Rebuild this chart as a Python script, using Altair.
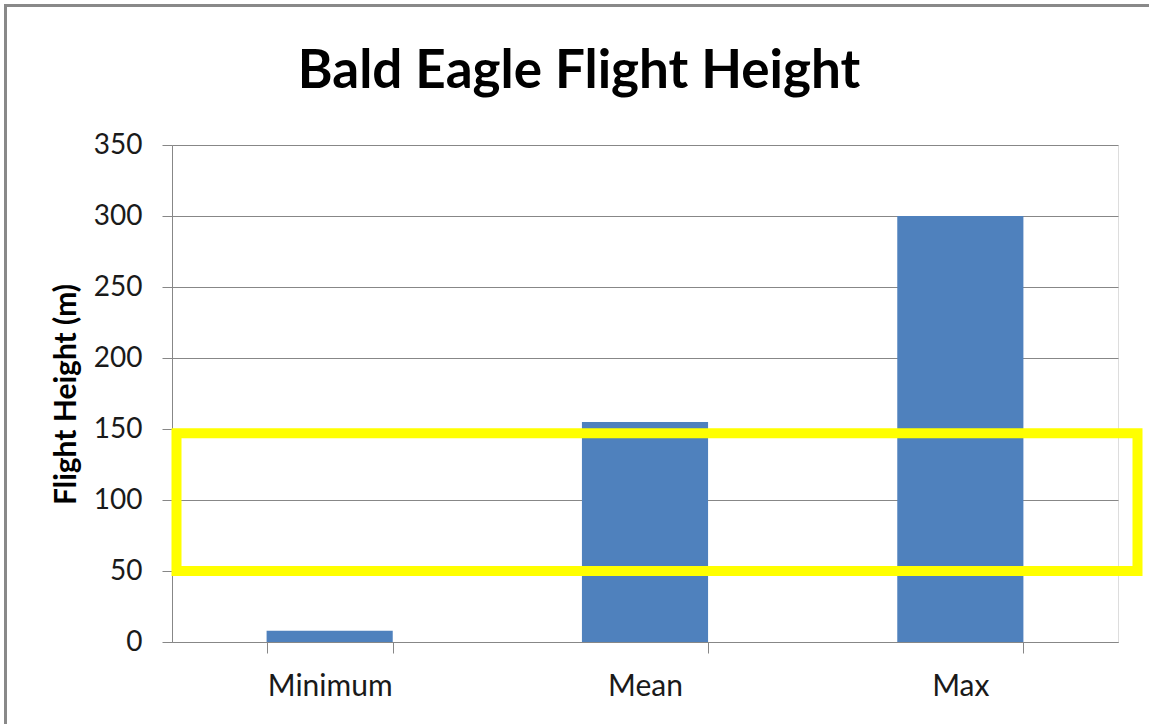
import altair as alt
import pandas as pd

categories = ["Minimum", "Mean", "Max"]
heights = [8, 155, 300]
highlight_low = [50]
highlight_high = [147]

bars_df = pd.DataFrame({"stat": categories, "height": heights})
box_df = pd.DataFrame({"low": highlight_low, "high": highlight_high})

FONT = "Lato"
GRAY = "#878787"

x_enc = alt.X(
    "stat:N",
    sort=categories,
    scale=alt.Scale(paddingInner=0.6, paddingOuter=0.3),
    axis=alt.Axis(
        title=None,
        labelAngle=0,
        tickBand="extent",
        tickSize=11,
        tickColor=GRAY,
        domainColor=GRAY,
        labelFont=FONT,
        labelFontSize=30,
        labelColor="#1a1a1a",
        labelPadding=18,
        grid=False,
    ),
)

y_enc = alt.Y(
    "height:Q",
    scale=alt.Scale(domain=[0, 350], nice=False),
    axis=alt.Axis(
        title="Flight Height (m)",
        values=[0, 50, 100, 150, 200, 250, 300, 350],
        tickSize=10,
        tickColor=GRAY,
        domainColor=GRAY,
        gridColor=GRAY,
        gridWidth=1,
        labelFont=FONT,
        labelFontSize=28,
        labelColor="#1a1a1a",
        labelPadding=20,
        titleFont=FONT,
        titleFontSize=30,
        titleFontWeight="bold",
        titleColor="#000000",
        titleX=-97,
        titleY=249,
        titleAngle=270,
        titleAlign="center",
        titleBaseline="alphabetic",
    ),
)

bars = alt.Chart(bars_df).mark_bar(color="#4F81BD").encode(x=x_enc, y=y_enc)

box = alt.Chart(box_df).mark_rect(
    filled=False, stroke="#FFFF00", strokeWidth=10
).encode(
    y=alt.Y("low:Q"),
    y2="high:Q",
    x=alt.value(4.5),
    x2=alt.value(965.5),
)

border = alt.Chart(box_df).mark_rect(
    filled=False, stroke="#898989", strokeWidth=3
).encode(
    x=alt.value(-166.5),
    x2=alt.value(1000),
    y=alt.value(-139.5),
    y2=alt.value(700),
)

chart = alt.layer(border, bars, box).properties(
    width=946,
    height=497,
    autosize=alt.AutoSizeParams(type="none"),
    padding={"left": 172, "top": 145, "right": 31, "bottom": 82},
    title=alt.TitleParams(
        text="Bald Eagle Flight Height",
        font=FONT,
        fontSize=53,
        fontWeight="bold",
        color="#000000",
        anchor="middle",
        dx=-66,
        offset=-95,
    ),
).configure_view(stroke=None).configure(background="white")

chart.save("out.html", embed_options={"renderer": "svg", "actions": False})
